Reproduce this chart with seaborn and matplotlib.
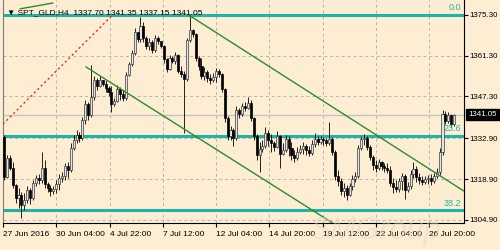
import numpy as np
import pandas as pd
import matplotlib
matplotlib.use("Agg")
import matplotlib.pyplot as plt
import matplotlib.transforms as mtransforms
import seaborn as sns

# ---------------- data (H4 candles) ----------------
symbol = "SPT_GLD,H4"
first_open = 1333.4
closes = [
    1319.7, 1326.2, 1322.7, 1316.9, 1312.4, 1313.5, 1310.0, 1311.8, 1315.2, 1312.4,
    1317.6, 1319.3, 1318.6, 1322.7, 1317.3, 1315.9, 1314.9, 1315.5, 1317.3, 1319.3,
    1320.0, 1323.4, 1322.1, 1329.6, 1332.3, 1334.1, 1333.0, 1339.2, 1344.7, 1340.9,
    1347.1, 1352.9, 1350.9, 1352.9, 1351.5, 1350.2, 1348.8, 1344.7, 1345.7, 1349.8,
    1348.1, 1346.7, 1354.6, 1358.4, 1362.2, 1369.4, 1367.0, 1371.4, 1367.3, 1364.6,
    1365.9, 1363.2, 1367.3, 1366.3, 1364.6, 1360.1, 1356.7, 1360.5, 1359.4, 1361.5,
    1356.0, 1355.0, 1353.3, 1366.6, 1370.1, 1368.7, 1360.5, 1357.7, 1354.3, 1355.7,
    1353.6, 1352.9, 1354.0, 1356.0, 1355.0, 1349.8, 1339.9, 1333.7, 1335.8, 1333.0,
    1342.6, 1341.3, 1344.0, 1343.3, 1345.0, 1339.9, 1333.7, 1327.2, 1329.3, 1330.3,
    1334.7, 1332.3, 1331.3, 1330.0, 1333.7, 1327.5, 1328.9, 1332.7, 1329.6, 1327.2,
    1326.2, 1328.2, 1329.3, 1330.3, 1328.9, 1327.9, 1331.0, 1332.7, 1331.7, 1332.7,
    1332.3, 1331.3, 1332.7, 1328.2, 1320.0, 1318.3, 1314.9, 1315.9, 1313.5, 1316.6,
    1319.0, 1320.0, 1329.6, 1332.7, 1333.0, 1329.9, 1326.5, 1323.8, 1322.7, 1324.8,
    1323.4, 1322.8, 1322.1, 1317.6, 1316.2, 1315.5, 1318.3, 1320.0, 1315.2, 1316.6,
    1320.7, 1322.4, 1319.7, 1318.6, 1317.9, 1318.9, 1319.3, 1318.3, 1320.0, 1321.4,
    1328.2, 1341.3, 1338.9, 1340.9, 1337.7, 1341.05,
]
highs = [
    1334.1, 1327.2, 1327.2, 1324.8, 1317.3, 1315.9, 1314.5, 1314.2, 1316.6, 1315.9,
    1318.6, 1320.3, 1320.7, 1328.2, 1325.5, 1317.9, 1316.9, 1316.6, 1318.6, 1320.7,
    1321.4, 1324.5, 1324.8, 1331.3, 1334.1, 1335.8, 1335.1, 1340.2, 1346.1, 1345.4,
    1358.1, 1354.3, 1353.6, 1354.3, 1352.9, 1352.9, 1350.9, 1350.9, 1346.7, 1351.2,
    1350.5, 1349.5, 1355.7, 1359.1, 1363.2, 1370.7, 1368.3, 1374.5, 1372.8, 1368.0,
    1367.3, 1366.6, 1368.3, 1368.0, 1365.9, 1364.9, 1360.5, 1361.5, 1361.1, 1362.5,
    1361.8, 1357.7, 1356.0, 1367.3, 1375.2, 1370.4, 1369.0, 1361.1, 1360.5, 1357.4,
    1356.3, 1355.0, 1355.3, 1357.0, 1356.7, 1355.3, 1350.2, 1340.6, 1337.1, 1336.5,
    1344.0, 1343.3, 1345.0, 1345.4, 1347.1, 1346.1, 1340.2, 1334.4, 1331.7, 1332.3,
    1336.8, 1335.8, 1334.4, 1332.0, 1335.4, 1334.1, 1331.3, 1334.1, 1333.7, 1331.7,
    1328.9, 1329.9, 1330.6, 1331.7, 1331.0, 1330.3, 1332.3, 1334.7, 1333.7, 1333.7,
    1333.4, 1333.0, 1338.5, 1333.4, 1328.9, 1322.1, 1319.3, 1317.6, 1316.9, 1317.6,
    1320.3, 1321.4, 1330.6, 1333.4, 1334.4, 1333.7, 1330.6, 1327.2, 1325.5, 1325.8,
    1325.1, 1324.5, 1324.5, 1323.4, 1319.3, 1318.6, 1319.3, 1321.0, 1320.7, 1317.9,
    1322.1, 1324.8, 1323.4, 1321.0, 1320.0, 1320.0, 1320.3, 1320.7, 1321.0, 1322.7,
    1329.6, 1342.6, 1342.3, 1341.9, 1341.3, 1341.35,
]
lows = [
    1318.6, 1319.3, 1322.1, 1315.9, 1310.7, 1309.0, 1305.6, 1308.3, 1310.7, 1310.4,
    1311.8, 1316.6, 1317.3, 1317.6, 1315.9, 1314.5, 1313.1, 1313.8, 1314.2, 1315.2,
    1317.9, 1318.6, 1319.3, 1321.4, 1328.9, 1331.3, 1331.7, 1332.3, 1337.8, 1339.2,
    1340.2, 1346.1, 1349.5, 1350.5, 1350.9, 1348.8, 1347.4, 1341.9, 1344.0, 1345.4,
    1346.1, 1345.7, 1346.1, 1354.3, 1357.7, 1361.5, 1365.9, 1365.9, 1365.9, 1363.5,
    1363.2, 1362.2, 1362.5, 1365.3, 1363.9, 1358.7, 1355.7, 1356.3, 1358.7, 1358.4,
    1355.3, 1353.9, 1334.7, 1352.6, 1365.9, 1367.7, 1359.4, 1356.3, 1353.3, 1352.9,
    1352.2, 1351.5, 1352.2, 1352.2, 1353.9, 1348.8, 1338.5, 1332.3, 1332.3, 1330.3,
    1332.3, 1339.9, 1340.6, 1342.3, 1343.0, 1338.9, 1332.3, 1325.5, 1321.4, 1328.2,
    1329.6, 1330.3, 1328.2, 1328.5, 1329.6, 1322.7, 1327.2, 1328.2, 1326.9, 1325.5,
    1324.8, 1325.5, 1327.5, 1327.5, 1327.2, 1326.9, 1327.2, 1329.9, 1330.6, 1331.0,
    1330.6, 1330.3, 1330.6, 1327.2, 1318.6, 1316.6, 1313.5, 1312.8, 1311.8, 1313.1,
    1315.2, 1317.9, 1319.3, 1328.9, 1330.6, 1328.9, 1325.5, 1322.1, 1321.4, 1322.1,
    1322.1, 1321.4, 1321.0, 1316.6, 1314.2, 1314.5, 1314.5, 1315.2, 1312.1, 1314.5,
    1315.5, 1319.3, 1317.9, 1317.3, 1316.9, 1317.3, 1317.3, 1316.9, 1317.6, 1319.3,
    1320.3, 1327.2, 1337.8, 1338.2, 1336.8, 1337.15,
]

time_labels = ["27 Jun 2016", "30 Jun 04:00", "4 Jul 22:00", "7 Jul 12:00",
               "12 Jul 04:00", "14 Jul 20:00", "19 Jul 12:00", "22 Jul 04:00",
               "26 Jul 20:00"]
price_ticks = [1304.90, 1318.90, 1332.90, 1347.30, 1361.30, 1375.30]

fib_levels = [1375.30, 1333.8, 1308.2]
fib_names = ["0.0", "23.6", "38.2"]
bid_price = 1341.05

# trend-line anchors (bar index, price)
channel_upper_bars = [63.6, 158.4]
channel_upper_prices = [1375.2, 1314.8]
channel_lower_bars = [28.2, 113.1]
channel_lower_prices = [1357.4, 1303.9]
short_green_bars = [5.5, 16.8]
short_green_prices = [1377.3, 1379.3]
red_line_bars = [-0.34, 37.1]
red_line_prices = [1337.8, 1374.9]

# ---------------- styling ----------------
sns.set_theme(style="white")
plt.rcParams['font.family'] = ['Liberation Sans', 'DejaVu Sans']
FS = 6
FS_Y = 5.7

BG = '#FDEDD3'
CYAN = '#1FB3AA'
GREEN = '#2E8B2E'

closes_a = np.array(closes)
opens_a = np.concatenate([[first_open], closes_a[:-1]])
highs_a = np.maximum(np.array(highs), np.maximum(opens_a, closes_a))
lows_a = np.minimum(np.array(lows), np.minimum(opens_a, closes_a))
n = len(closes_a)
idx = np.arange(n)
df = pd.DataFrame({"bar": idx, "open": opens_a, "high": highs_a,
                   "low": lows_a, "close": closes_a})

fig = plt.figure(figsize=(5, 2.5), dpi=100)
fig.patch.set_facecolor(BG)
ax = fig.add_axes([0.006, 0.108, 0.922, 0.892])
ax.set_facecolor(BG)

x_left, x_right = -0.34, 158.4
ax.set_xlim(x_left, x_right)
ax.set_ylim(1303.87, 1380.34)

# grid + ticks
tick_step = 18.35
xt = x_left + tick_step * np.arange(len(time_labels))
ax.set_xticks(xt)
ax.set_xticklabels(time_labels, ha='left', fontsize=FS)
ax.set_yticks(price_ticks)
ax.set_yticklabels([f"{p:.2f}" for p in price_ticks], fontsize=FS_Y)
ax.grid(True, color='#B5B5B5', lw=0.7, ls=(0, (3, 3)), zorder=0)

# fib levels
for lvl, name in zip(fib_levels, fib_names):
    ax.axhline(lvl, color=CYAN, lw=2.2, zorder=2)
    ax.text(x_right - 1.0, lvl + 0.8, name, color=CYAN, fontsize=FS + 0.5,
            ha='right', va='bottom', zorder=6)

# bid line
ax.axhline(bid_price, color='#C4C4C4', lw=1.0, zorder=1.5)

# candles
up = df["close"] >= df["open"]
ax.vlines(df["bar"], df["low"], df["high"], color='black', lw=0.6, zorder=3)
ax.bar(df["bar"][up], (df["close"] - df["open"])[up], bottom=df["open"][up],
       width=0.72, facecolor='#E4E4E4', edgecolor='#3A3A3A', lw=0.5, zorder=4)
ax.bar(df["bar"][~up], (df["open"] - df["close"])[~up], bottom=df["close"][~up],
       width=0.72, facecolor='black', edgecolor='black', lw=0.5, zorder=4)

# trend lines via seaborn
sns.lineplot(x=channel_upper_bars, y=channel_upper_prices, ax=ax, color=GREEN, lw=1.0, zorder=5)
sns.lineplot(x=channel_lower_bars, y=channel_lower_prices, ax=ax, color=GREEN, lw=1.0, zorder=5)
sns.lineplot(x=short_green_bars, y=short_green_prices, ax=ax, color=GREEN, lw=1.0, zorder=5)
sns.lineplot(x=red_line_bars, y=red_line_prices, ax=ax, color='#FF2020', lw=1.0,
             ls=(0, (1.5, 2)), zorder=5)

# header text
o, h, l, c = opens_a[-1], highs_a[-1], lows_a[-1], closes_a[-1]
ax.text(0.008, 0.942, f"\u25BC {symbol}  {o:.2f} {h:.2f} {l:.2f} {c:.2f}",
        transform=ax.transAxes, fontsize=FS, color='black', ha='left',
        va='center', zorder=7, family=['Liberation Sans', 'DejaVu Sans'])

# last price box
trans = mtransforms.blended_transform_factory(ax.transAxes, ax.transData)
ax.text(1.009, bid_price, f"{bid_price:.2f}", transform=trans, color='white',
        fontsize=FS_Y, ha='left', va='center', zorder=8, clip_on=False,
        bbox=dict(boxstyle='square,pad=0.3', facecolor='black', edgecolor='black'))

# axes styling
ax.yaxis.tick_right()
ax.tick_params(axis='y', which='both', right=True, left=False, labelright=True,
               labelleft=False, length=3, width=0.8, color='black',
               pad=1.0, labelcolor='black')
ax.tick_params(axis='x', bottom=True, length=3, width=0.8, color='black',
               pad=2.5, labelcolor='black')
ax.spines['top'].set_visible(False)
ax.spines['left'].set_color('#7A7A7A')
ax.spines['right'].set_color('black')
ax.spines['bottom'].set_color('black')
for s in ['left', 'right', 'bottom']:
    ax.spines[s].set_linewidth(0.8)
ax.set_xlabel("")
ax.set_ylabel("")

# watermark
fig.text(0.75, 0.075, "SMGroup", fontsize=22, style='italic', color='#E2D6C4',
         alpha=0.45, ha='center', va='center', zorder=0)

fig.savefig("out.png", dpi=100, facecolor=BG)
